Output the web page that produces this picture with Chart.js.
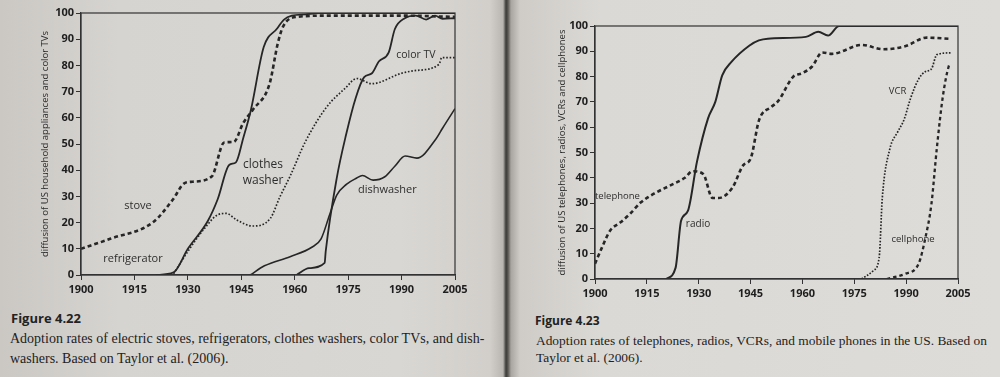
<!DOCTYPE html>
<html>
<head>
<meta charset="utf-8">
<script src="https://cdn.jsdelivr.net/npm/chart.js@4.4.1/dist/chart.umd.min.js"></script>
<style>
html, body { margin: 0; padding: 0; }
body {
    width: 1000px; height: 377px; position: relative; overflow: hidden;
    background: linear-gradient(to right, #cbc8c4 0px, #d6d4d0 120px, #d9d7d3 400px, #d2cfcb 490px, #b9b6b1 503px, #3c3a37 506px, #5a5753 508px, #a9a6a1 511px, #cfccc8 520px, #dbd9d5 600px, #dedcd8 1000px);
}
canvas { position: absolute; top: 0; }
#c1 { left: 0; }
#c2 { left: 500px; }
.fig { position: absolute; font-family: 'Open Sans', sans-serif; font-weight: bold; color: #222; white-space: nowrap; }
.cap { position: absolute; font-family: 'Liberation Serif', serif; color: #222; white-space: nowrap; }
</style>
</head>
<body>
<canvas id="c1" width="480" height="301"></canvas>
<canvas id="c2" width="480" height="305"></canvas>

<div class="fig" style="left:11px; top:309px; font-size:13px;">Figure 4.22</div>
<div class="cap" style="left:10px; top:331px; font-size:14px;">Adoption rates of electric stoves, refrigerators, clothes washers, color TVs, and dish-</div>
<div class="cap" style="left:10px; top:351px; font-size:14px;">washers. Based on Taylor et al. (2006).</div>

<div class="fig" style="left:535px; top:312px; font-size:12px;">Figure 4.23</div>
<div class="cap" style="left:536px; top:333px; font-size:13.4px;">Adoption rates of telephones, radios, VCRs, and mobile phones in the US. Based on</div>
<div class="cap" style="left:536px; top:350px; font-size:13.4px;">Taylor et al. (2006).</div>

<script>
// ticks
var xTicks = [1900, 1915, 1930, 1945, 1960, 1975, 1990, 2005];
var yTicks = [0, 10, 20, 30, 40, 50, 60, 70, 80, 90, 100];

// Figure 4.22 - appliances
var stoveYears = [1900, 1908.4, 1920.3, 1925.8, 1929, 1931.3, 1936.7, 1940.2, 1942.9, 1945.5, 1948.2, 1952.9, 1955.3, 1956.8, 1960.5, 1970, 1990, 2005];
var stoveVals  = [10, 13.9, 20.2, 28.8, 35, 35.6, 37.6, 50.6, 50.8, 57.9, 63, 72.8, 88.7, 95, 98.5, 99, 99, 98.5];

var fridgeYears = [1921, 1926, 1930, 1935.6, 1938.4, 1941.6, 1943.5, 1945.5, 1947.7, 1951.3, 1955, 1957, 1959.2, 1963, 1967, 1970, 2005];
var fridgeVals  = [0, 1, 10, 20.6, 29, 42, 43, 52, 63, 87, 94, 97.5, 99, 99.5, 100, 100, 100];

var washerYears = [1926, 1930, 1934.8, 1938.4, 1940.8, 1943.7, 1948.2, 1953.2, 1955.8, 1958.7, 1963, 1968.9, 1974.2, 1977.4, 1981.6, 1990, 1993.7, 2000.5, 2001.3, 2005];
var washerVals  = [0.5, 9, 18, 23, 23.5, 21, 18.7, 21.7, 29.7, 37.7, 50.9, 64, 71.3, 75, 73, 77, 78, 80.4, 83, 83];

var tvYears = [1960.5, 1964, 1968.4, 1968.7, 1971.8, 1974.5, 1977.1, 1979.5, 1981.7, 1983.6, 1986.4, 1988.1, 1990.9, 1994, 1996.9, 1999.4, 2001.5, 2005];
var tvVals  = [0, 2.6, 4.6, 9, 37, 54, 67.5, 75.5, 77, 81.5, 85, 93.8, 98, 99, 97.5, 99, 97.8, 98];

var dishYears = [1947.5, 1951.5, 1958.7, 1964.8, 1967.4, 1969.8, 1971.8, 1974.5, 1977.4, 1979, 1982, 1985.3, 1988.1, 1991, 1994.3, 1999.7, 2001.5, 2005];
var dishVals  = [0, 3.5, 7, 10.6, 13.8, 23, 30.5, 34.6, 37, 38, 36.2, 37.5, 41.5, 45.4, 44.6, 52, 56, 63.5];

var labels1Text  = ['stove', 'refrigerator', ['clothes', 'washer'], 'color TV', 'dishwasher'];
var labels1Year  = [1916, 1914.6, 1951.1, 1994, 1986];
var labels1Value = [26.4, 6.1, 39, 84, 32.5];
var labels1Size  = [11, 11, 12, 10.5, 11];

// Figure 4.23 - communication
var phoneYears = [1900, 1902, 1904.4, 1907.4, 1910.3, 1913.2, 1916.9, 1921.5, 1926, 1928.2, 1931.3, 1934, 1935.7, 1939.7, 1942.9, 1945, 1947.5, 1951, 1952.9, 1957.3, 1960, 1962.8, 1965.7, 1968.5, 1977.2, 1983.4, 1989.7, 1996, 2003];
var phoneVals  = [6, 12.4, 19.2, 22.4, 26, 30.2, 33.6, 36.8, 40, 42.6, 41.5, 32, 32, 36, 45, 47.5, 63, 68, 70.2, 79.9, 81.4, 84, 89.5, 89, 92.5, 90.8, 92, 95.4, 94.9];

var radioYears = [1920.6, 1923.3, 1924.9, 1926.9, 1929.5, 1932.7, 1934.8, 1936.8, 1939.4, 1944.7, 1947.4, 1950, 1961, 1964.6, 1967.4, 1970.6, 2005];
var radioVals  = [0, 4.4, 23, 27, 46.4, 63.5, 70, 80.5, 85.7, 92.3, 94.3, 95, 95.7, 97.7, 96.2, 100, 100];

var vcrYears = [1977.1, 1980.6, 1982.2, 1983.1, 1985.3, 1987.5, 1989.4, 1991.3, 1993.6, 1995.6, 1997.3, 1998.9, 2003];
var vcrVals  = [0, 3.4, 8.5, 32, 51.5, 58, 63, 71.5, 79, 82, 83, 88.7, 89.4];

var cellYears = [1984.4, 1989.6, 1993.6, 1995.6, 1997.3, 1998.9, 2000.6, 2002.3, 2002.7];
var cellVals  = [0, 2, 6, 16.5, 29.5, 52, 72, 84, 85];

var labels2Text  = ['telephone', 'radio', 'VCR', 'cellphone'];
var labels2Year  = [1906.5, 1929.8, 1987.5, 1992];
var labels2Value = [32.5, 21.8, 74, 15.5];
var labels2Size  = [9.5, 10, 9.5, 9.5];

var ink = '#262626';

function pts(xs, ys) {
    var out = [];
    for (var i = 0; i < xs.length; i++) out.push({ x: xs[i], y: ys[i] });
    return out;
}

function serie(xs, ys, width, dash) {
    return {
        data: pts(xs, ys),
        borderColor: ink,
        borderWidth: width,
        borderDash: dash,
        pointRadius: 0,
        fill: false,
        cubicInterpolationMode: 'monotone'
    };
}

// box round the plot area
var framePlugin = {
    id: 'frame',
    afterDatasetsDraw: function (chart) {
        var a = chart.chartArea, ctx = chart.ctx;
        ctx.save();
        ctx.strokeStyle = '#333';
        ctx.lineWidth = 1.2;
        ctx.strokeRect(a.left, a.top, a.right - a.left, a.bottom - a.top);
        ctx.restore();
    }
};

// text labels placed on the data scales
var textPlugin = {
    id: 'textLabels',
    afterDatasetsDraw: function (chart, args, opts) {
        var ctx = chart.ctx;
        ctx.save();
        ctx.fillStyle = '#2e2e2e';
        ctx.textAlign = 'center';
        ctx.textBaseline = 'middle';
        for (var i = 0; i < opts.text.length; i++) {
            var px = chart.scales.x.getPixelForValue(opts.year[i]);
            var py = chart.scales.y.getPixelForValue(opts.value[i]);
            ctx.font = opts.size[i] + 'px "Open Sans", sans-serif';
            var lines = [].concat(opts.text[i]);
            var lh = opts.size[i] * 1.3;
            for (var j = 0; j < lines.length; j++) {
                ctx.fillText(lines[j], px, py + (j - (lines.length - 1) / 2) * lh);
            }
        }
        ctx.restore();
    }
};

function makeConfig(sets, yTitle, pad, yWidth, labels) {
    return {
        type: 'line',
        data: { datasets: sets },
        options: {
            responsive: false,
            animation: false,
            layout: { padding: pad },
            plugins: {
                legend: { display: false },
                tooltip: { enabled: false },
                textLabels: labels
            },
            scales: {
                x: {
                    type: 'linear', min: 1900, max: 2005,
                    afterBuildTicks: function (s) { s.ticks = xTicks.map(function (v) { return { value: v }; }); },
                    ticks: { autoSkip: false, maxRotation: 0, padding: 3, color: '#1e1e1e',
                             font: { family: 'Open Sans', size: 11, weight: 'bold' },
                             callback: function (v) { return String(v); } },
                    grid: { drawOnChartArea: false, drawTicks: true, tickLength: 5, color: '#333' },
                    border: { display: true, color: '#333', width: 1.2 },
                    afterFit: function (s) { s.height = 26; }
                },
                y: {
                    min: 0, max: 100,
                    afterBuildTicks: function (s) { s.ticks = yTicks.map(function (v) { return { value: v }; }); },
                    ticks: { autoSkip: false, padding: 2, color: '#1e1e1e',
                             font: { family: 'Open Sans', size: 11, weight: 'bold' } },
                    grid: { drawOnChartArea: false, drawTicks: true, tickLength: 5, color: '#333' },
                    border: { display: true, color: '#333', width: 1.2 },
                    title: { display: true, text: yTitle, color: '#2a2a2a', padding: 0,
                             font: { family: 'Open Sans', size: 9.5 } },
                    afterFit: function (s) { s.width = yWidth; }
                }
            }
        },
        plugins: [framePlugin, textPlugin]
    };
}

var sets1 = [
    serie(stoveYears, stoveVals, 2.6, [4, 3]),
    serie(fridgeYears, fridgeVals, 1.8, []),
    serie(washerYears, washerVals, 1.7, [1.6, 1.8]),
    serie(tvYears, tvVals, 1.8, []),
    serie(dishYears, dishVals, 1.6, [])
];

var sets2 = [
    serie(phoneYears, phoneVals, 2.6, [4, 3]),
    serie(radioYears, radioVals, 2, []),
    serie(vcrYears, vcrVals, 1.7, [1.6, 1.6]),
    serie(cellYears, cellVals, 2.3, [3.5, 3])
];

new Chart(document.getElementById('c1'), makeConfig(sets1,
    'diffusion of US household appliances and color TVs',
    { left: 40, right: 25, top: 13, bottom: 0 }, 41,
    { text: labels1Text, year: labels1Year, value: labels1Value, size: labels1Size }));

new Chart(document.getElementById('c2'), makeConfig(sets2,
    'diffusion of US telephones, radios, VCRs and cellphones',
    { left: 57, right: 22, top: 26, bottom: 0 }, 38,
    { text: labels2Text, year: labels2Year, value: labels2Value, size: labels2Size }));
</script>
</body>
</html>
